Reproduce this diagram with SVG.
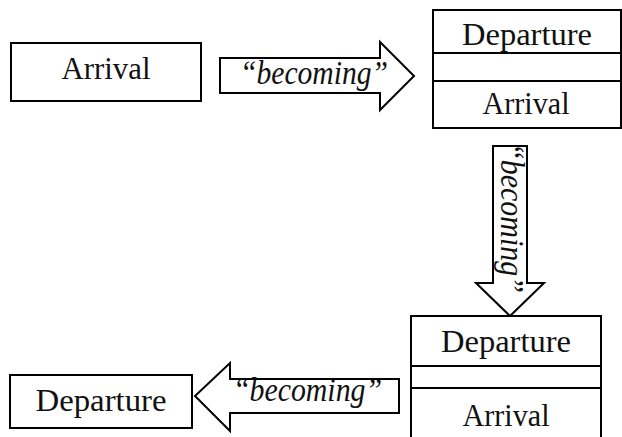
<svg xmlns="http://www.w3.org/2000/svg" width="622" height="437" viewBox="0 0 622 437">
<style>
.box{fill:#fff;stroke:#000;stroke-width:2}
.ln{stroke:#000;stroke-width:2}
.arr{fill:#fff;stroke:#000;stroke-width:2;stroke-linejoin:miter}
.lbl{font-family:"Liberation Serif","Times New Roman",serif;font-size:32px;fill:#111;text-anchor:middle}
.bec{font-family:"Liberation Serif","Times New Roman",serif;font-size:33px;font-style:italic;fill:#111}
</style>
<rect width="622" height="437" fill="#fff"/>
<g id="connectors">
  <g id="arrow1">
    <polygon class="arr" points="220,58 380,58 380,42 414,76 380,110 380,93 220,93"/>
    <text class="bec" x="240" y="84" textLength="148" lengthAdjust="spacingAndGlyphs">“becoming”</text>
  </g>
  <g id="arrow2">
    <polygon class="arr" points="493,146 527,146 527,283 544,283 510,316 476,283 493,283"/>
    <text class="bec" transform="translate(501,143) rotate(90)" x="0" y="0" textLength="150" lengthAdjust="spacingAndGlyphs">“becoming”</text>
  </g>
  <g id="arrow3">
    <polygon class="arr" points="399,379 230,379 230,363 195,396 230,431 230,413 399,413"/>
    <text class="bec" x="233" y="401" textLength="149" lengthAdjust="spacingAndGlyphs">“becoming”</text>
  </g>
</g>
<g id="node-arrival">
  <rect class="box" x="11" y="43" width="190" height="58"/>
  <text class="lbl" x="106" y="79" textLength="89" lengthAdjust="spacingAndGlyphs">Arrival</text>
</g>
<g id="node-compound1">
  <rect class="box" x="433" y="10" width="188" height="118"/>
  <line class="ln" x1="433" y1="53" x2="621" y2="53"/>
  <line class="ln" x1="433" y1="81" x2="621" y2="81"/>
  <text class="lbl" x="527" y="45" textLength="130" lengthAdjust="spacingAndGlyphs">Departure</text>
  <text class="lbl" x="526" y="114" textLength="87" lengthAdjust="spacingAndGlyphs">Arrival</text>
</g>
<g id="node-compound2">
  <rect class="box" x="411" y="316" width="190" height="130"/>
  <line class="ln" x1="411" y1="366" x2="601" y2="366"/>
  <line class="ln" x1="411" y1="388" x2="601" y2="388"/>
  <text class="lbl" x="506" y="352" textLength="130" lengthAdjust="spacingAndGlyphs">Departure</text>
  <text class="lbl" x="506" y="426" textLength="87" lengthAdjust="spacingAndGlyphs">Arrival</text>
</g>
<g id="node-departure">
  <rect class="box" x="10" y="375" width="182" height="53"/>
  <text class="lbl" x="101" y="411" textLength="131" lengthAdjust="spacingAndGlyphs">Departure</text>
</g>
</svg>
